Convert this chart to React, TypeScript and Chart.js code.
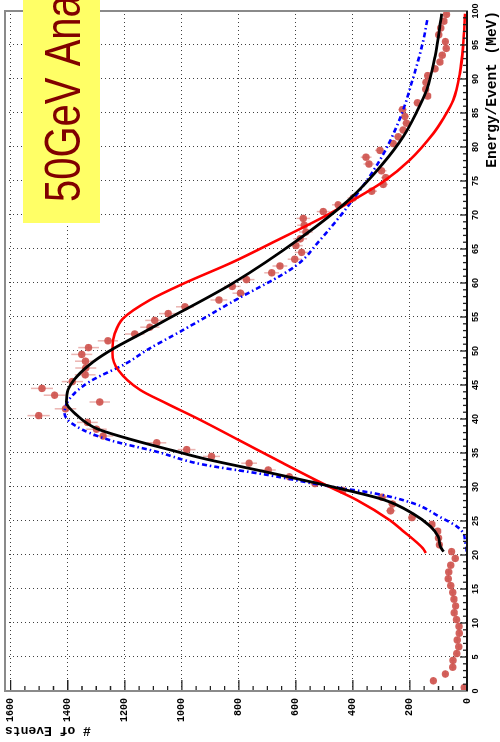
import React, { useEffect, useRef } from "react";
import { Chart, registerables } from "chart.js";

Chart.register(...registerables);

// ---- data ----
const binCenters = [
  0.5, 1.5, 2.5, 3.5, 4.5, 5.5, 6.5, 7.5, 8.5, 9.5,
  10.5, 11.5, 12.5, 13.5, 14.5, 15.5, 16.5, 17.5, 18.5, 19.5,
  20.5, 21.5, 22.5, 23.5, 24.5, 25.5, 26.5, 27.5, 28.5, 29.5,
  30.5, 31.5, 32.5, 33.5, 34.5, 35.5, 36.5, 37.5, 38.5, 39.5,
  40.5, 41.5, 42.5, 43.5, 44.5, 45.5, 46.5, 47.5, 48.5, 49.5,
  50.5, 51.5, 52.5, 53.5, 54.5, 55.5, 56.5, 57.5, 58.5, 59.5,
  60.5, 61.5, 62.5, 63.5, 64.5, 65.5, 66.5, 67.5, 68.5, 69.5,
  70.5, 71.5, 72.5, 73.5, 74.5, 75.5, 76.5, 77.5, 78.5, 79.5,
  80.5, 81.5, 82.5, 83.5, 84.5, 85.5, 86.5, 87.5, 88.5, 89.5,
  90.5, 91.5, 92.5, 93.5, 94.5, 95.5, 96.5, 97.5, 98.5, 99.5,
];
const eventCounts = [
  10, 118, 76, 50, 49, 36, 29, 34, 27, 28,
  37, 45, 40, 46, 50, 57, 66, 64, 57, 41,
  54, 97, 100, 103, 123, 193, 268, 261, 298, 436,
  533, 623, 697, 764, 896, 983, 1088, 1276, 1299, 1331,
  1502, 1408, 1288, 1446, 1490, 1384, 1339, 1337, 1338, 1351,
  1327, 1259, 1165, 1112, 1095, 1048, 989, 870, 794, 823,
  773, 685, 656, 604, 580, 600, 585, 565, 571, 574,
  504, 452, 399, 334, 294, 285, 300, 344, 354, 305,
  259, 241, 224, 212, 218, 226, 174, 138, 145, 144,
  138, 112, 95, 87, 73, 76, 99, 92, 81, 72,
];

const redFitE = [20.3, 21.0, 23.7, 25.1, 28.1, 30.0, 33.5, 36.9, 39.9, 42.3, 44.3, 47.2, 49.6, 50.4, 52.6, 54.8, 57.5, 59.9, 63.1, 66.3, 69.7, 72.2, 74.9, 78.1, 82.0, 84.2, 86.9, 90.8, 95.2, 99.6];
const redFitN = [144, 155, 229, 270, 387, 481, 645, 800, 937, 1054, 1147, 1223, 1243, 1243, 1235, 1206, 1112, 995, 820, 665, 504, 399, 294, 200, 118, 83, 48, 25, 13, 7];

const blackFitE = [20.5, 21.2, 22.7, 24.2, 26.1, 28.1, 30.0, 32.2, 34.2, 35.4, 36.9, 38.6, 40.6, 42.5, 44.3, 46.2, 48.4, 50.4, 52.5, 54.6, 60.0, 66.5, 72.4, 77.6, 81.5, 85.0, 88.4, 93.3, 99.6];
const blackFitN = [82, 93, 101, 128, 190, 290, 469, 703, 925, 1035, 1170, 1299, 1369, 1405, 1399, 1369, 1311, 1238, 1145, 1054, 820, 588, 410, 294, 224, 178, 141, 112, 89];

const blueFitE = [20.5, 22.0, 23.2, 24.2, 25.6, 27.6, 29.1, 30.0, 31.8, 33.4, 35.2, 36.9, 38.9, 40.8, 43.0, 45.5, 48.2, 50.1, 53.1, 57.3, 62.6, 66.3, 71.7, 78.1, 84.2, 90.3, 95.7, 99.0];
const blueFitN = [1, 7, 13, 36, 95, 188, 329, 469, 703, 937, 1089, 1253, 1369, 1411, 1393, 1323, 1194, 1124, 995, 820, 598, 516, 410, 305, 235, 188, 153, 138];

const energyTicks = [0, 5, 10, 15, 20, 25, 30, 35, 40, 45, 50, 55, 60, 65, 70, 75, 80, 85, 90, 95, 100];
const eventTicks = [0, 200, 400, 600, 800, 1000, 1200, 1400, 1600];

const xTitle = "Energy/Event (MeV)";
const yTitle = "# of Events";
const boxTitle = "50GeV Ana";

const W = 742;
const H = 500;

export default function App() {
  const ref = useRef<HTMLCanvasElement | null>(null);

  useEffect(() => {
    const canvas = ref.current;
    if (!canvas) return;

    const errorBars = {
      id: "errorBars",
      beforeDatasetsDraw(chart: any) {
        const { ctx, scales } = chart;
        const x = scales.x;
        const y = scales.y;
        ctx.save();
        ctx.strokeStyle = "rgba(222,130,125,0.6)";
        ctx.lineWidth = 1.5;
        for (let i = 0; i < binCenters.length; i++) {
          const v = eventCounts[i];
          const e = Math.sqrt(v);
          const px = x.getPixelForValue(binCenters[i]);
          const py = y.getPixelForValue(v);
          ctx.beginPath();
          ctx.moveTo(px, y.getPixelForValue(v - e));
          ctx.lineTo(px, y.getPixelForValue(v + e));
          ctx.moveTo(x.getPixelForValue(binCenters[i] - 0.5), py);
          ctx.lineTo(x.getPixelForValue(binCenters[i] + 0.5), py);
          ctx.stroke();
        }
        ctx.restore();
      },
    };

    const frame = {
      id: "frame",
      afterDraw(chart: any) {
        const { ctx, chartArea: a, scales } = chart;
        const x = scales.x;
        const y = scales.y;
        ctx.save();
        // tick marks drawn inward (ROOT style)
        ctx.strokeStyle = "#222";
        ctx.lineWidth = 1.3;
        ctx.beginPath();
        for (let v = 0; v <= 100; v += 1) {
          const px = x.getPixelForValue(v);
          const len = v % 5 === 0 ? 7 : 4;
          ctx.moveTo(px, a.bottom);
          ctx.lineTo(px, a.bottom - len);
        }
        for (let v = 0; v <= 1600; v += 50) {
          const py = y.getPixelForValue(v);
          const len = v % 200 === 0 ? 11 : 5;
          ctx.moveTo(a.left, py);
          ctx.lineTo(a.left + len, py);
        }
        ctx.stroke();
        // frame
        ctx.strokeStyle = "#8a8a8a";
        ctx.lineWidth = 2;
        ctx.strokeRect(a.left, a.top, a.right - a.left, a.bottom - a.top);
        ctx.strokeStyle = "#111";
        ctx.lineWidth = 2;
        ctx.beginPath();
        ctx.moveTo(a.left, a.bottom);
        ctx.lineTo(a.right, a.bottom);
        ctx.stroke();

        // yellow title box
        ctx.fillStyle = "#ffff66";
        ctx.fillRect(519, 23, W - 519, 77);
        ctx.save();
        ctx.translate(540, 80);
        ctx.scale(1, 1.25);
        ctx.fillStyle = "#800000";
        ctx.font = '40px "Liberation Sans", Arial, sans-serif';
        ctx.textBaseline = "alphabetic";
        ctx.textAlign = "left";
        ctx.fillText(boxTitle, 0, 0);
        ctx.restore();
        ctx.restore();
      },
    };

    const points = binCenters.map((e, i) => ({ x: e, y: eventCounts[i] }));
    const red = redFitE.map((e, i) => ({ x: e, y: redFitN[i] }));
    const black = blackFitE.map((e, i) => ({ x: e, y: blackFitN[i] }));
    const blue = blueFitE.map((e, i) => ({ x: e, y: blueFitN[i] }));

    const chart = new Chart(canvas, {
      type: "scatter",
      data: {
        datasets: [
          {
            label: "fit red",
            data: red,
            showLine: true,
            borderColor: "#ff0000",
            borderWidth: 2.6,
            pointRadius: 0,
            cubicInterpolationMode: "monotone",
            order: 2,
          } as any,
          {
            label: "fit black",
            data: black,
            showLine: true,
            borderColor: "#000000",
            borderWidth: 2.8,
            pointRadius: 0,
            cubicInterpolationMode: "monotone",
            order: 1,
          } as any,
          {
            label: "fit blue",
            data: blue,
            showLine: true,
            borderColor: "#0000ff",
            borderWidth: 2.6,
            borderDash: [5, 3, 1.5, 3],
            pointRadius: 0,
            cubicInterpolationMode: "monotone",
            order: 3,
          } as any,
          {
            label: "data",
            data: points,
            showLine: false,
            pointRadius: 3.7,
            pointBorderWidth: 0,
            pointBackgroundColor: "rgba(206,82,76,0.9)",
            order: 10,
          } as any,
        ],
      },
      options: {
        responsive: false,
        animation: false,
        devicePixelRatio: 1,
        layout: { autoPadding: false, padding: { top: 5, right: 11, left: 0, bottom: 0 } },
        plugins: {
          legend: { display: false },
          tooltip: { enabled: false },
        },
        scales: {
          x: {
            type: "linear",
            min: 0,
            max: 100,
            afterFit: (s: any) => {
              s.height = 33;
              s.paddingLeft = 0;
              s.paddingRight = 0;
            },
            afterBuildTicks: (s: any) => {
              s.ticks = energyTicks.map((v) => ({ value: v }));
            },
            ticks: {
              autoSkip: false,
              maxRotation: 0,
              padding: 3,
              color: "#000",
              callback: (v: any) => String(v),
              font: { family: '"Liberation Sans", Arial, sans-serif', size: 9, weight: "bold" },
            },
            grid: {
              drawTicks: false,
              color: "rgba(0,0,0,0.75)",
              lineWidth: 1,
            },
            border: { display: false, dash: [1, 3] },
            title: {
              display: true,
              text: xTitle,
              align: "end",
              color: "#000",
              padding: { top: 0, bottom: 0 },
              font: { family: '"Liberation Mono", monospace', size: 14.5, weight: "bold", lineHeight: 1 },
            },
          },
          y: {
            type: "linear",
            min: 0,
            max: 1620,
            afterFit: (s: any) => {
              s.width = 51;
              s.paddingTop = 0;
              s.paddingBottom = 0;
            },
            afterBuildTicks: (s: any) => {
              s.ticks = eventTicks.map((v) => ({ value: v }));
            },
            ticks: {
              padding: 7,
              color: "#000",
              callback: (v: any) => String(v),
              font: { family: '"Liberation Mono", monospace', size: 10, weight: "bold" },
            },
            grid: {
              drawTicks: false,
              color: "rgba(0,0,0,0.75)",
              lineWidth: 1,
            },
            border: { display: false, dash: [1, 3] },
            title: {
              display: true,
              text: yTitle,
              align: "end",
              color: "#000",
              padding: { top: 4, bottom: 0 },
              font: { family: '"Liberation Mono", monospace', size: 13, weight: "bold", lineHeight: 1.2 },
            },
          },
        },
      } as any,
      plugins: [errorBars, frame],
    });

    return () => {
      chart.destroy();
    };
  }, []);

  return (
    <div
      style={{
        position: "fixed",
        left: 0,
        top: 0,
        width: 500,
        height: 742,
        overflow: "hidden",
        background: "#fff",
      }}
    >
      <div
        style={{
          position: "absolute",
          left: 0,
          top: 0,
          width: W,
          height: H,
          transformOrigin: "0 0",
          transform: `translateY(${W}px) rotate(-90deg)`,
        }}
      >
        <canvas ref={ref} width={W} height={H} style={{ display: "block", width: W, height: H }} />
      </div>
    </div>
  );
}
